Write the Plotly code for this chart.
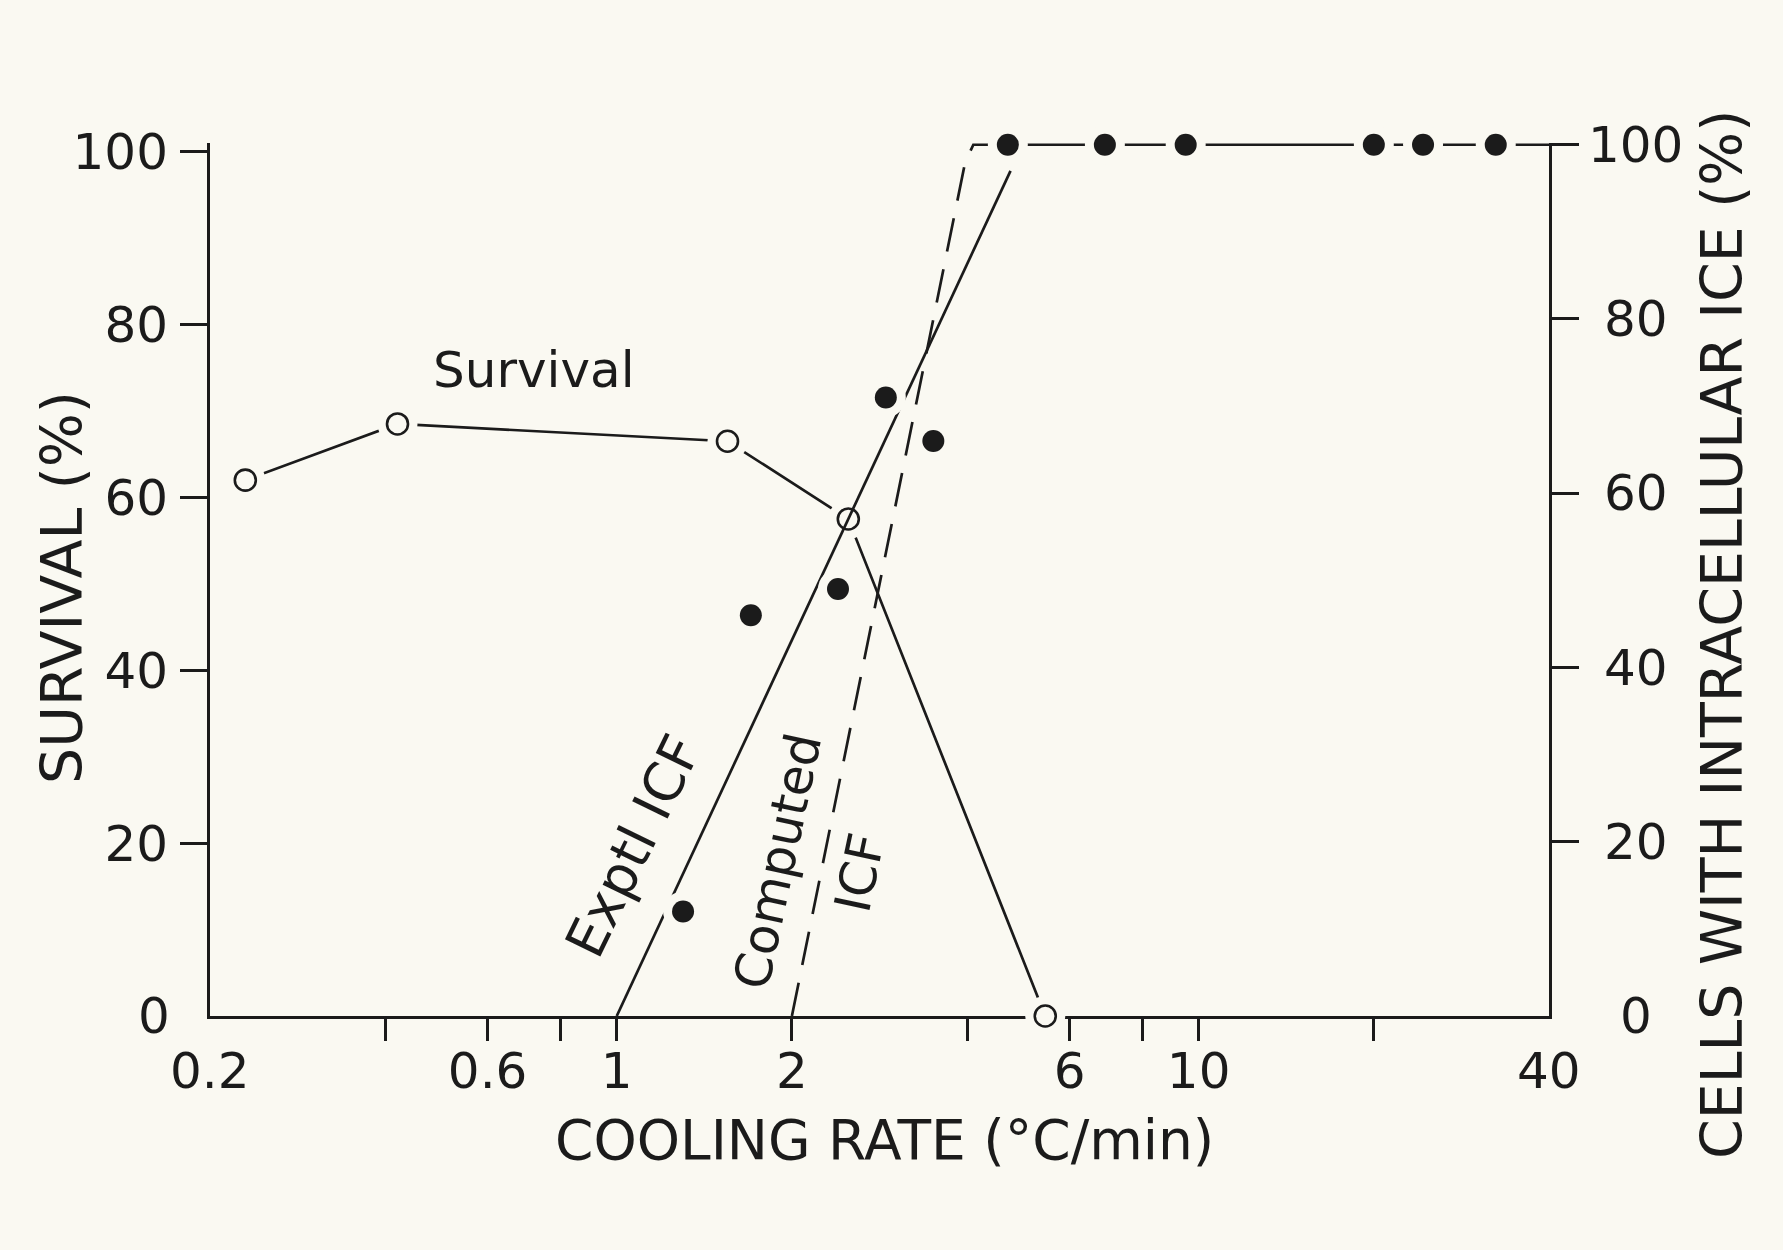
import math
import plotly.graph_objects as go

# ---------------- data ----------------
survival_rate = [0.23, 0.42, 1.55, 2.5, 5.45]          # cooling rate, °C/min
survival_pct = [62, 68.5, 66.5, 57.5, 0]                # survival, %

icf_rate = [1.3, 1.7, 2.4, 2.9, 3.5, 4.7, 6.9, 9.5, 20, 24.3, 32.4]
icf_pct = [12, 46, 49, 71, 66, 100, 100, 100, 100, 100, 100]   # cells with intracellular ice, %

exptl_rate = [1.0, 4.75]
exptl_pct = [0, 97]

computed_rate = [2.0, 3.97, 4.1, 4.7]
computed_pct = [0, 98, 100, 100]

plateau_rate = [4.7, 40]
plateau_pct = [100, 100]

x_tick_vals = [0.4, 0.6, 0.8, 1, 2, 4, 6, 8, 10, 20]
x_tick_text = ["", "0.6", "", "1", "2", "", "6", "", "10", ""]
x_corner_vals = [0.2, 40]
x_corner_text = ["0.2", "40"]
left_tick_vals = [20, 40, 60, 80, 100]
right_tick_vals = [20, 40, 60, 80, 100]
right_label_vals = [0, 20, 40, 60, 80, 100]

# ---------------- style ----------------
INK = "#1b1b1b"
PAPER = "#faf9f2"
FONT = "DejaVu Sans"
W, H = 1783, 1250
L, R, B, T = 210, 1549, 1016, 143

def px_x(p):
    return (p - L) / (R - L)

def px_y(p):
    return (B - p) / (B - T)

fig = go.Figure()

line_style = dict(color=INK, width=2.7)
fig.add_trace(go.Scatter(x=survival_rate, y=survival_pct, mode="lines",
                         line=line_style, yaxis="y", cliponaxis=False, showlegend=False))
fig.add_trace(go.Scatter(x=exptl_rate, y=exptl_pct, mode="lines",
                         line=line_style, yaxis="y2", cliponaxis=False, showlegend=False))
fig.add_trace(go.Scatter(x=computed_rate, y=computed_pct, mode="lines",
                         line=dict(color=INK, width=2.7, dash="34px,18px"),
                         yaxis="y2", cliponaxis=False, showlegend=False))
fig.add_trace(go.Scatter(x=plateau_rate, y=plateau_pct, mode="lines",
                         line=line_style, yaxis="y2", cliponaxis=False, showlegend=False))

# paper-coloured halos so lines stop short of the symbols
fig.add_trace(go.Scatter(x=survival_rate, y=survival_pct, mode="markers",
                         marker=dict(size=40, color=PAPER, line=dict(width=0)),
                         yaxis="y", cliponaxis=False, showlegend=False))
fig.add_trace(go.Scatter(x=icf_rate, y=icf_pct, mode="markers",
                         marker=dict(size=40, color=PAPER, line=dict(width=0)),
                         yaxis="y2", cliponaxis=False, showlegend=False))

fig.add_trace(go.Scatter(x=survival_rate, y=survival_pct, mode="markers",
                         marker=dict(size=21, color=PAPER, line=dict(width=2.6, color=INK)),
                         yaxis="y", cliponaxis=False, showlegend=False))
fig.add_trace(go.Scatter(x=icf_rate, y=icf_pct, mode="markers",
                         marker=dict(size=22, color=INK, line=dict(width=0)),
                         yaxis="y2", cliponaxis=False, showlegend=False))

tick_font = dict(family=FONT, size=50, color=INK)
label_font = dict(family=FONT, size=50, color=INK)

annotations = []
# bottom corner labels
for v, t in zip(x_corner_vals, x_corner_text):
    annotations.append(dict(x=math.log10(v), y=px_y(1071), xref="x", yref="paper",
                            text=t, showarrow=False, font=tick_font,
                            xanchor="center", yanchor="middle"))
# left "0"
annotations.append(dict(x=px_x(172), y=0, xref="paper", yref="y", text="0",
                        showarrow=False, font=tick_font, xanchor="right", yanchor="middle"))
# right axis labels
for v in right_label_vals:
    annotations.append(dict(x=px_x(1636), y=v, xref="paper", yref="y2", text=str(v),
                            showarrow=False, font=tick_font, xanchor="center", yanchor="middle"))
# axis titles
annotations.append(dict(x=px_x(62), y=px_y(588), xref="paper", yref="paper",
                        text="SURVIVAL (%)", textangle=-90, showarrow=False,
                        font=dict(family=FONT, size=57, color=INK),
                        xanchor="center", yanchor="middle"))
annotations.append(dict(x=px_x(1722), y=px_y(634), xref="paper", yref="paper",
                        text="CELLS WITH INTRACELLULAR ICE (%)", textangle=-90, showarrow=False,
                        font=dict(family=FONT, size=57, color=INK),
                        xanchor="center", yanchor="middle"))
annotations.append(dict(x=px_x(884), y=px_y(1140), xref="paper", yref="paper",
                        text="COOLING RATE (°C/min)", showarrow=False,
                        font=dict(family=FONT, size=55, color=INK),
                        xanchor="center", yanchor="middle"))
# in-plot labels
annotations.append(dict(x=px_x(534), y=px_y(370), xref="paper", yref="paper",
                        text="Survival", showarrow=False, font=label_font,
                        xanchor="center", yanchor="middle"))
annotations.append(dict(x=px_x(633), y=px_y(846), xref="paper", yref="paper",
                        text="Exptl ICF", textangle=-64, showarrow=False,
                        font=dict(family=FONT, size=54, color=INK),
                        xanchor="center", yanchor="middle"))
annotations.append(dict(x=px_x(778), y=px_y(861), xref="paper", yref="paper",
                        text="Computed", textangle=-78, showarrow=False, font=label_font,
                        xanchor="center", yanchor="middle"))
annotations.append(dict(x=px_x(860), y=px_y(873), xref="paper", yref="paper",
                        text="ICF", textangle=-78, showarrow=False, font=label_font,
                        xanchor="center", yanchor="middle"))

fig.update_layout(
    width=W, height=H,
    margin=dict(l=L, r=W - R, t=T, b=H - B, pad=0),
    paper_bgcolor=PAPER, plot_bgcolor=PAPER,
    showlegend=False,
    xaxis=dict(type="log", range=[math.log10(0.2), math.log10(40)],
               tickmode="array", tickvals=x_tick_vals, ticktext=x_tick_text,
               ticks="outside", ticklen=22, tickwidth=3, tickcolor=INK,
               showline=True, linewidth=3, linecolor=INK, mirror=False,
               showgrid=False, zeroline=False, tickfont=tick_font,
               ticklabelstandoff=-13, layer="below traces"),
    yaxis=dict(range=[0, (B - T) / 8.643], tickmode="array", tickvals=left_tick_vals,
               ticks="outside", ticklen=27, tickwidth=3, tickcolor=INK,
               showline=True, linewidth=3, linecolor=INK, showgrid=False, zeroline=False,
               tickfont=tick_font, ticklabelstandoff=2, layer="below traces"),
    yaxis2=dict(range=[0, 100.2], overlaying="y", side="right", anchor="x",
                tickmode="array", tickvals=right_tick_vals, showticklabels=False,
                ticks="outside", ticklen=27, tickwidth=3, tickcolor=INK,
                showline=True, linewidth=3, linecolor=INK, showgrid=False, zeroline=False,
                layer="below traces"),
    annotations=annotations,
)

fig.write_html("out.html", config={"displayModeBar": False},
               post_script="document.body.style.margin='0';")
